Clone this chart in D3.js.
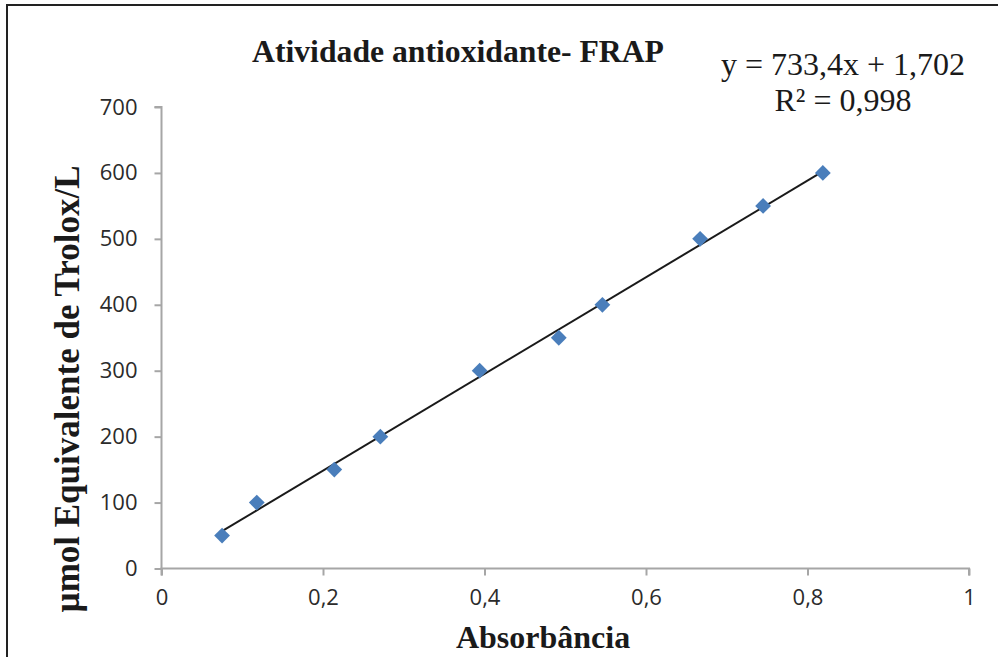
<!DOCTYPE html>
<html>
<head>
<meta charset="utf-8">
<script src="https://cdn.jsdelivr.net/npm/d3@7"></script>
<style>
  html, body { margin: 0; padding: 0; background: #fff; }
  svg { display: block; }
</style>
</head>
<body>
<svg id="chart" width="998" height="657"></svg>
<script>
// FRAP calibration: absorbance vs. Trolox equivalent concentration
const absorbance = [0.075, 0.118, 0.214, 0.271, 0.394, 0.492, 0.546, 0.667, 0.745, 0.819];
const trolox = [50, 100, 150, 200, 300, 350, 400, 500, 550, 600];
const xTicks = [0, 0.2, 0.4, 0.6, 0.8, 1];
const yTicks = [0, 100, 200, 300, 400, 500, 600, 700];
const slope = 733.4;
const intercept = 1.702;
const equationLines = ["y = 733,4x + 1,702", "R² = 0,998"];

const svg = d3.select("#chart");
const fmt = v => String(v).replace(".", ",");

const x = d3.scaleLinear().domain([0, 1]).range([161.5, 969]);
const y = d3.scaleLinear().domain([0, 700]).range([568.5, 107]);

// outer frame (left and top edges)
svg.append("path")
  .attr("d", "M7,657 V5 H998")
  .attr("fill", "none")
  .attr("stroke", "#222")
  .attr("stroke-width", 2);

const axisColor = "#a6a6a6";
const tickFont = "'Open Sans', 'Liberation Sans', sans-serif";

// x axis
const gx = svg.append("g")
  .attr("transform", `translate(0,${y(0)})`)
  .call(d3.axisBottom(x).tickValues(xTicks).tickSize(7).tickPadding(14).tickFormat(fmt));
// y axis
const gy = svg.append("g")
  .attr("transform", `translate(${x(0)},0)`)
  .call(d3.axisLeft(y).tickValues(yTicks).tickSize(7).tickPadding(17));

[gx, gy].forEach(g => {
  g.select(".domain").attr("stroke", axisColor).attr("stroke-width", 2);
  g.selectAll(".tick line").attr("stroke", axisColor).attr("stroke-width", 2);
  g.selectAll(".tick text")
    .attr("fill", "#2b2b2b")
    .style("font-family", tickFont)
    .style("font-size", "22px");
});
gy.select(".domain").attr("d", `M-7,${y(700)}H0V${y(0)}`);
gx.select(".domain").attr("d", `M${x(0)},7V0H${x(1)}V7`);

// linear trend line across the data range
const xMin = d3.min(absorbance), xMax = d3.max(absorbance);
svg.append("line")
  .attr("x1", x(xMin)).attr("y1", y(slope * xMin + intercept))
  .attr("x2", x(xMax)).attr("y2", y(slope * xMax + intercept))
  .attr("stroke", "#1a1a1a")
  .attr("stroke-width", 2);

// data markers (diamonds)
svg.append("g")
  .selectAll("path")
  .data(absorbance.map((a, i) => [a, trolox[i]]))
  .join("path")
  .attr("d", d3.symbol().type(d3.symbolSquare).size(125))
  .attr("transform", d => `translate(${x(d[0])},${y(d[1])}) rotate(45)`)
  .attr("fill", "#4a7ebb");

const serif = "'Liberation Serif', 'Times New Roman', serif";

// title
svg.append("text")
  .attr("x", 458).attr("y", 62)
  .attr("text-anchor", "middle")
  .style("font-family", serif)
  .style("font-weight", "bold")
  .style("font-size", "31.7px")
  .attr("fill", "#1a1a1a")
  .text("Atividade antioxidante- FRAP");

// regression equation
svg.append("g").selectAll("text")
  .data(equationLines)
  .join("text")
  .attr("x", 843)
  .attr("y", (d, i) => 75 + i * 36)
  .attr("text-anchor", "middle")
  .style("font-family", serif)
  .style("font-size", "32px")
  .attr("fill", "#1a1a1a")
  .text(d => d);

// axis titles
svg.append("text")
  .attr("x", 543).attr("y", 648)
  .attr("text-anchor", "middle")
  .style("font-family", serif)
  .style("font-weight", "bold")
  .style("font-size", "32px")
  .attr("fill", "#1a1a1a")
  .text("Absorbância");

svg.append("text")
  .attr("transform", "translate(79,389) rotate(-90)")
  .attr("text-anchor", "middle")
  .style("font-family", serif)
  .style("font-weight", "bold")
  .style("font-size", "35px")
  .attr("fill", "#1a1a1a")
  .text("µmol Equivalente de Trolox/L");
</script>
</body>
</html>
